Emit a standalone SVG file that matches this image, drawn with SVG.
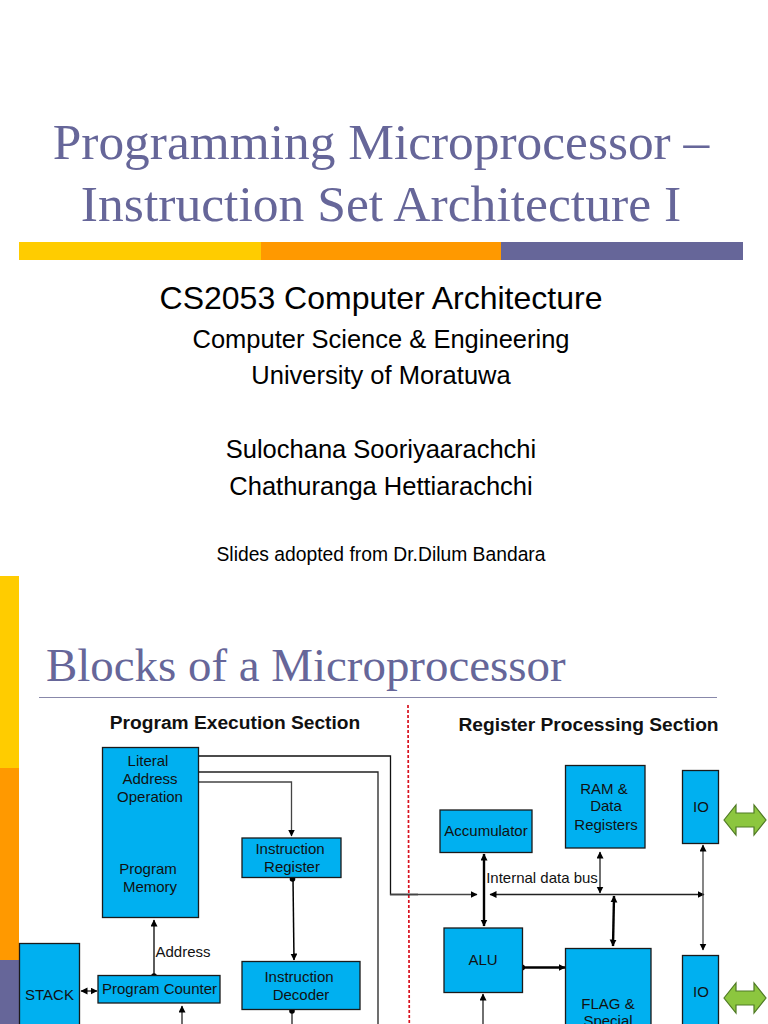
<svg xmlns="http://www.w3.org/2000/svg" width="768" height="1024" viewBox="0 0 768 1024">
<style>
.title{font-family:"Liberation Serif",serif;fill:#666699}
.sub{font-family:"Liberation Sans",sans-serif;fill:#000;text-anchor:middle}
.box{fill:#00b0f0;stroke:#1a1a1a;stroke-width:1.3}
.lbl{font-family:"Liberation Sans",sans-serif;font-size:15px;fill:#111;text-anchor:middle}
.head{font-family:"Liberation Sans",sans-serif;font-size:19.2px;font-weight:bold;fill:#111;text-anchor:middle}
.ln{fill:none;stroke:#222;stroke-width:1.3}
.thick{fill:none;stroke:#000;stroke-width:2.4}
.io{fill:#8cc63f;stroke:#4f7a24;stroke-width:1.2}
</style>
<defs>
<marker id="a" markerWidth="8" markerHeight="8" refX="6.500" refY="3.500" orient="auto-start-reverse" markerUnits="userSpaceOnUse"><path d="M0 0L7 3.500L0 7z" fill="#000"/></marker>
</defs>
<rect width="768" height="1024" fill="#fff"/>
<text class="title" x="381" y="159" font-size="51.400" text-anchor="middle">Programming Microprocessor –</text>
<text class="title" x="381" y="221" font-size="51.600" text-anchor="middle">Instruction Set Architecture I</text>
<rect x="19" y="242" width="242" height="18" fill="#ffcc00"/>
<rect x="261" y="242" width="240" height="18" fill="#ff9900"/>
<rect x="501" y="242" width="242" height="18" fill="#666699"/>
<text class="sub" x="381" y="309" font-size="32">CS2053 Computer Architecture</text>
<text class="sub" x="381" y="348" font-size="25.500">Computer Science &amp; Engineering</text>
<text class="sub" x="381" y="384" font-size="25.500">University of Moratuwa</text>
<text class="sub" x="381" y="458" font-size="25.500">Sulochana Sooriyaarachchi</text>
<text class="sub" x="381" y="495" font-size="25.500">Chathuranga Hettiarachchi</text>
<text class="sub" x="381" y="561" font-size="19.300">Slides adopted from Dr.Dilum Bandara</text>
<rect x="0" y="576" width="19" height="192" fill="#ffcc00"/>
<rect x="0" y="768" width="19" height="192" fill="#ff9900"/>
<rect x="0" y="960" width="19" height="64" fill="#666699"/>
<text class="title" x="46" y="681" font-size="46.900">Blocks of a Microprocessor</text>
<line x1="39" y1="697.500" x2="717" y2="697.500" stroke="#8888aa" stroke-width="1"/>
<text class="head" x="235" y="729">Program Execution Section</text>
<text class="head" x="588.500" y="731">Register Processing Section</text>
<line x1="408" y1="705" x2="409.300" y2="1024" stroke="#d8121f" stroke-width="1.700" stroke-dasharray="3 2"/>
<g id="connectors">
<path class="ln" d="M198 756H390.500V894.500H418" style="stroke:#111"/>
<path class="ln" d="M198 772H378V1024"/>
<path class="ln" d="M198 782H291.500V836" marker-end="url(#a)" style="stroke:#444"/>
<path class="thick" d="M293 879L294 960" marker-end="url(#a)" style="stroke-width:1.500"/>
<path class="ln" d="M154 975V920" marker-end="url(#a)" style="stroke-width:1.600;stroke:#333"/>
<path class="ln" d="M81 991H97" marker-start="url(#a)" marker-end="url(#a)"/>
<path class="ln" d="M182 1024V1006" marker-end="url(#a)"/>
<path class="ln" d="M292 1011V1024"/>
<path class="ln" d="M390 894.500H477" marker-end="url(#a)" style="stroke:#444"/>
<path class="ln" d="M490 894.500H704" marker-start="url(#a)" marker-end="url(#a)"/>
<path class="thick" d="M484 854V926" marker-start="url(#a)" marker-end="url(#a)"/>
<path class="ln" d="M600 852V893" marker-start="url(#a)" marker-end="url(#a)"/>
<path class="thick" d="M614 896L613 946" marker-start="url(#a)" marker-end="url(#a)"/>
<path class="ln" d="M703 845V950" marker-start="url(#a)" marker-end="url(#a)" style="stroke:#444"/>
<path class="thick" d="M523 967.500H565" marker-end="url(#a)"/>
<path class="ln" d="M483 1024V994" marker-end="url(#a)"/>
<circle cx="292.500" cy="879" r="2.800" fill="#000"/>
<circle cx="154" cy="976" r="2.800" fill="#000"/>
<circle cx="292" cy="1011" r="2.800" fill="#000"/>
<circle cx="522" cy="967.500" r="3" fill="#000"/>
</g>
<g id="program-memory"><rect class="box" x="102.500" y="747.500" width="96" height="170"/>
<text class="lbl"><tspan x="148" y="766">Literal</tspan><tspan x="150" y="784">Address</tspan><tspan x="150" y="802">Operation</tspan><tspan x="148" y="874">Program</tspan><tspan x="150" y="892">Memory</tspan></text></g>
<g id="instruction-register"><rect class="box" x="242" y="838" width="99" height="39.500"/>
<text class="lbl"><tspan x="290" y="854">Instruction</tspan><tspan x="292" y="872">Register</tspan></text></g>
<g id="instruction-decoder"><rect class="box" x="242" y="961.500" width="118" height="48"/>
<text class="lbl"><tspan x="299" y="982">Instruction</tspan><tspan x="301" y="1000">Decoder</tspan></text></g>
<g id="stack"><rect class="box" x="19.500" y="943.500" width="60" height="90"/>
<text class="lbl" x="49.500" y="1000">STACK</text></g>
<g id="program-counter"><rect class="box" x="98" y="975.500" width="122" height="27.500"/>
<text class="lbl" x="159.500" y="994">Program Counter</text></g>
<text class="lbl" x="183" y="957">Address</text>
<g id="accumulator"><rect class="box" x="440" y="810" width="92" height="42.500"/>
<text class="lbl" x="486" y="836">Accumulator</text></g>
<g id="ram"><rect class="box" x="565.500" y="765.500" width="79.500" height="82.500"/>
<text class="lbl"><tspan x="604" y="794">RAM &amp;</tspan><tspan x="606" y="811">Data</tspan><tspan x="606" y="830">Registers</tspan></text></g>
<g id="io-1"><rect class="box" x="682.500" y="770.500" width="36" height="73"/>
<text class="lbl" x="701" y="812">IO</text></g>
<polygon class="io" points="724,820 736,805 736,813 754,813 754,805 766,820 754,835 754,827 736,827 736,835"/>
<g id="alu"><rect class="box" x="444" y="928" width="78.500" height="64.500"/>
<text class="lbl" x="483" y="965">ALU</text></g>
<g id="flag"><rect class="box" x="565.500" y="948.500" width="85.500" height="85.500"/>
<text class="lbl"><tspan x="608" y="1009">FLAG &amp;</tspan><tspan x="608" y="1026">Special</tspan></text></g>
<g id="io-2"><rect class="box" x="682.500" y="955.500" width="36" height="79"/>
<text class="lbl" x="701" y="997">IO</text></g>
<polygon class="io" points="724,998 736,983 736,991 754,991 754,983 766,998 754,1013 754,1005 736,1005 736,1013"/>
<text class="lbl" x="542" y="883">Internal data bus</text>
</svg>
